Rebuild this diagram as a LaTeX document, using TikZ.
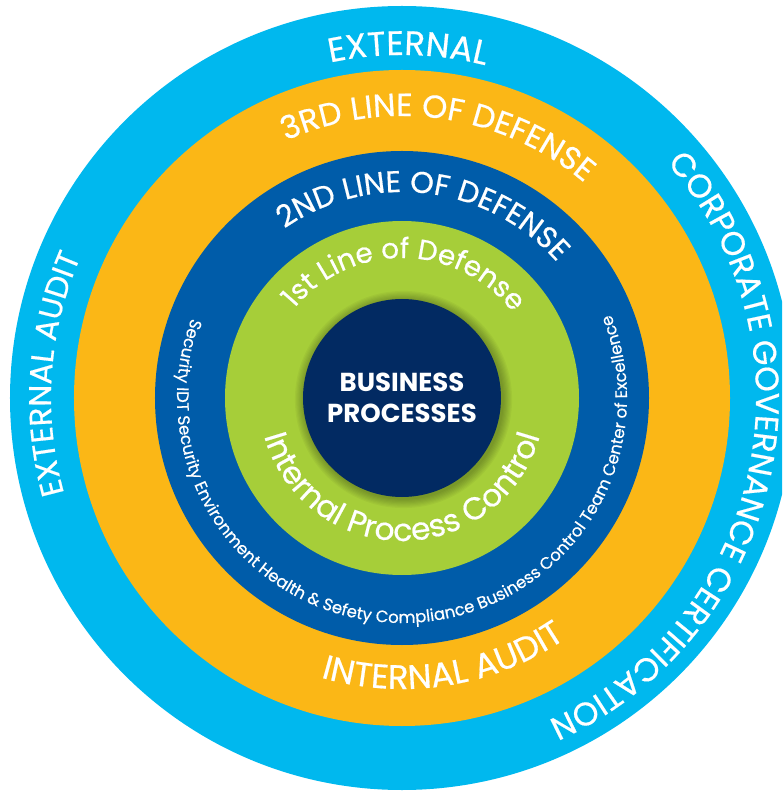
\documentclass[tikz,border=0pt]{standalone}
\usepackage{fontspec}
\setmainfont{Poppins}
\newfontfamily\ringfam{Poppins}[FakeBold=0.5]
\usetikzlibrary{decorations.text}
\definecolor{extblue}{RGB}{0,184,238}
\definecolor{thirdorange}{RGB}{251,183,22}
\definecolor{secondblue}{RGB}{0,92,169}
\definecolor{firstgreen}{RGB}{166,206,57}
\definecolor{corenavy}{RGB}{2,42,98}
\newcommand{\ringfont}[1]{\ringfam\fontsize{#1}{#1}\selectfont}
\tikzset{
  ringlabel/.style={decorate,decoration={text along path,text align=center,text color=white,text={#1}}}
}

\begin{document}
\begin{tikzpicture}[x=0.75pt,y=0.75pt]
\useasboundingbox (-402,-394) rectangle (380,398);
\clip (-402,-394) rectangle (380,398);
\fill[extblue] (0,0) circle[radius=392]; % external ring
\fill[thirdorange] (0,0) circle[radius=328]; % 3rd line
\fill[secondblue] (0,0) circle[radius=247]; % 2nd line
\fill[firstgreen] (0,0) circle[radius=177]; % 1st line
\foreach \s in {1,...,8} \fill[black,opacity=0.035] (1.5,-1.5) circle[radius=99+1.2*\s]; % soft shadow
\fill[corenavy] (0,0) circle[radius=99]; % core

% outer ring
\path[ringlabel={|\ringfont{25.5}|EXTERNAL}] (189:343) arc[start angle=189,end angle=-11,radius=343];
\path[ringlabel={|\ringfont{23.5}|EXTERNAL AUDIT}] (276:351) arc[start angle=276,end angle=76,radius=351];
\path[ringlabel={|\ringfont{24.5}|CORPORATE GOVERNANCE CERTIFICATION}] (110:354) arc[start angle=110,end angle=-134,radius=354];

% 3rd line
\path[ringlabel={|\ringfont{24}|3RD LINE OF DEFENSE}] (182:282) arc[start angle=182,end angle=-18,radius=282];
\path[ringlabel={|\ringfont{25.5}|INTERNAL AUDIT}] (179:291) arc[start angle=179,end angle=379,radius=291];

% 2nd line
\path[ringlabel={|\ringfont{22.5}|2ND LINE OF DEFENSE}] (183:206) arc[start angle=183,end angle=-17,radius=206];
\path[ringlabel={|\ringfont{12.4}|Security IDT Security Environment Health {\&} Sefety Compliance Business Control Team Center of Excellence}] (140:225) arc[start angle=140,end angle=401,radius=225];

% 1st line
\path[ringlabel={|\ringfont{21}|1st Line of Defense}] (189:140) arc[start angle=189,end angle=-11,radius=140];
\path[ringlabel={|\ringfont{23.5}|Internal Process Control}] (150:143) arc[start angle=150,end angle=390,radius=143];

\node[align=center,text=white,font=\bfseries\fontsize{19.5}{23}\selectfont] (core) at (0,0) {BUSINESS\\PROCESSES};
\end{tikzpicture}
\end{document}
